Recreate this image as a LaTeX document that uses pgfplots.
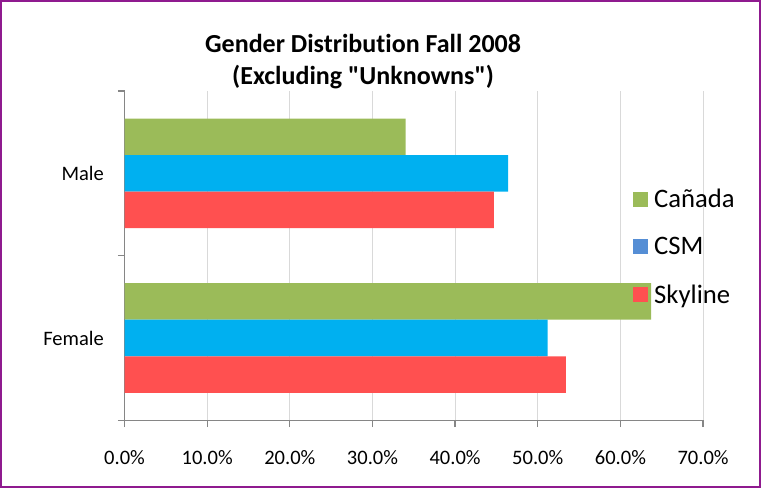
\documentclass[border=0pt]{standalone}
\usepackage{fontspec}
\setmainfont{Carlito}[Ligatures={TeXOff,CommonOff}]
\usepackage{pgfplots}
\pgfplotsset{compat=1.18}

\definecolor{canada}{HTML}{9BBB59}
\definecolor{csm}{HTML}{00B0F0}
\definecolor{csmleg}{HTML}{558ED5}
\definecolor{sky}{HTML}{FF5050}
\definecolor{gridgray}{HTML}{D9D9D9}
\definecolor{axisgray}{HTML}{868686}
\definecolor{framepurple}{RGB}{143,26,143}

\pgfplotsset{
  sqlegend/.style={legend image code/.code={\fill[##1, draw=none] (0bp,-5.6bp) rectangle (11.2bp,5.6bp);}}
}

\begin{document}
\begin{tikzpicture}
\useasboundingbox (0,0) rectangle (570.75bp,366.75bp);
\draw[framepurple, line width=1.5bp] (0.75bp,1.5bp) rectangle (570bp,366bp);
\node[font=\bfseries\fontsize{19.5bp}{24bp}\selectfont, align=center] at (272.3bp,320.25bp)
  {Gender Distribution Fall 2008\\(Excluding "Unknowns")};

\begin{axis}[
  at={(93.4bp,51.5bp)}, anchor=south west,
  scale only axis, width=433.9bp, height=247bp,
  xmin=0, xmax=70, ymin=-0.5, ymax=1.5,
  xtick={0,10,...,70},
  xticklabel={\pgfmathprintnumber[fixed,fixed zerofill,precision=1]{\tick}\%},
  /pgf/number format/assume math mode=true,
  ytick={-0.5,0.5,1.5}, yticklabels={Female,Male,},
  ticklabel style={font=\fontsize{15.4bp}{18bp}\selectfont},
  xticklabel style={yshift=-14bp},
  yticklabel style={yshift=61.7bp, xshift=-7bp},
  axis x line*=bottom, axis y line*=left,
  axis line style={draw=axisgray, line width=1bp, -},
  tick align=outside, major tick length=5bp,
  tick style={draw=axisgray, line width=1bp},
  xmajorgrids, ymajorgrids=false,
  major grid style={draw=gridgray, line width=0.75bp},
  legend style={draw=none, fill=none, at={(0.872,0.72)}, anchor=north west,
    font=\fontsize{20bp}{24bp}\selectfont, row sep=17bp,
    nodes={inner xsep=4.5bp}},
  legend cell align=left,
]
\addplot[xbar, bar width=27.4bp, bar shift=27.4bp, fill=canada, draw=none, forget plot]
  coordinates {(63.7,0) (34.0,1)};
\addplot[xbar, bar width=27.4bp, bar shift=0bp, fill=csm, draw=none, forget plot]
  coordinates {(51.2,0) (46.4,1)};
\addplot[xbar, bar width=27.4bp, bar shift=-27.4bp, fill=sky, draw=none, forget plot]
  coordinates {(53.4,0) (44.7,1)};
\addlegendimage{sqlegend, fill=canada, draw=none}
\addlegendentry{Cañada}
\addlegendimage{sqlegend, fill=csmleg, draw=none}
\addlegendentry{CSM}
\addlegendimage{sqlegend, fill=sky, draw=none}
\addlegendentry{Skyline}
\end{axis}
\end{tikzpicture}
\end{document}
